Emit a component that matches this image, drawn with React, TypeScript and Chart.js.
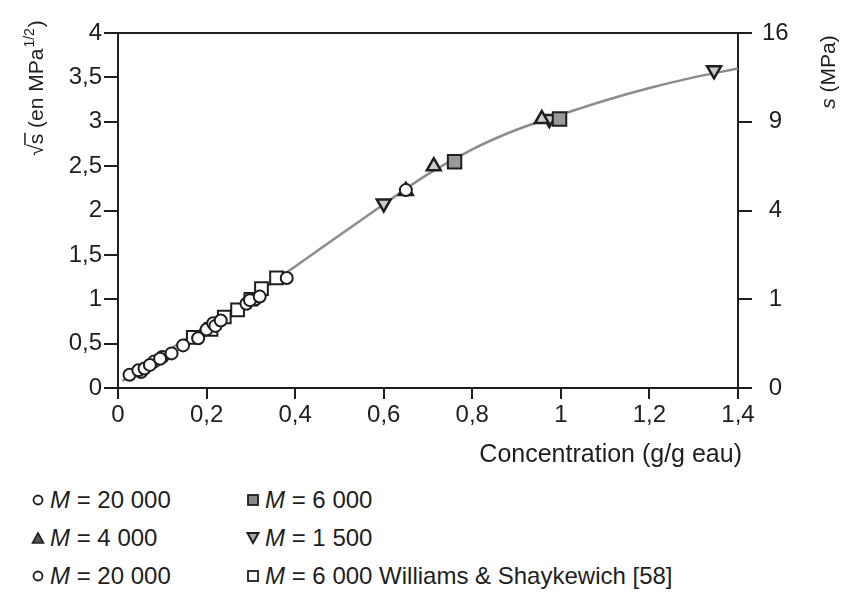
import React, { useEffect, useRef } from "react";
import { Chart, registerables } from "chart.js";

Chart.register(...registerables);

// ---- tick values & labels ----
const xTickValues = [0, 0.2, 0.4, 0.6, 0.8, 1, 1.2, 1.4];
const xTickLabels = ["0", "0,2", "0,4", "0,6", "0,8", "1", "1,2", "1,4"];
const yLeftTickValues = [0, 0.5, 1, 1.5, 2, 2.5, 3, 3.5, 4];
const yLeftTickLabels = ["0", "0,5", "1", "1,5", "2", "2,5", "3", "3,5", "4"];
const yRightTickValues = [0, 1, 2, 3, 4];
const yRightTickLabels = ["0", "1", "4", "9", "16"];

const xTitle = "Concentration (g/g eau)";

// ---- series (x = concentration g/g, y = sqrt(s)) ----
const circlesA_x = [0.026, 0.046, 0.06, 0.072, 0.095, 0.121, 0.147, 0.181, 0.22, 0.232, 0.298, 0.32, 0.381, 0.65];
const circlesA_y = [0.15, 0.2, 0.22, 0.26, 0.33, 0.39, 0.48, 0.56, 0.7, 0.76, 0.99, 1.03, 1.24, 2.23];

const graySq_x = [0.76, 0.997];
const graySq_y = [2.55, 3.03];

const tri_x = [0.65, 0.713, 0.957];
const tri_y = [2.22, 2.5, 3.03];

const invTri_x = [0.6, 0.974, 1.346];
const invTri_y = [2.08, 3.03, 3.58];

const circlesB_x = [0.052, 0.082, 0.1, 0.2, 0.215, 0.29, 0.31];
const circlesB_y = [0.18, 0.3, 0.35, 0.66, 0.73, 0.95, 1.0];

const openSq_x = [0.17, 0.21, 0.24, 0.27, 0.3, 0.324, 0.358];
const openSq_y = [0.57, 0.66, 0.8, 0.88, 1.0, 1.12, 1.24];

// fitted curve
const curve_x = [0.01, 0.1, 0.2, 0.3, 0.4, 0.5, 0.6, 0.7, 0.8, 0.9, 1.0, 1.1, 1.2, 1.3, 1.4];
const curve_y = [0.08, 0.38, 0.7, 1.02, 1.37, 1.72, 2.07, 2.41, 2.69, 2.91, 3.08, 3.24, 3.38, 3.5, 3.6];

const pts = (xs: number[], ys: number[]) => xs.map((x, i) => ({ x, y: ys[i] }));

const INK = "#1e1e1e";
const FONT = '"Liberation Sans", Arial, sans-serif';

const titlesPlugin = {
  id: "customTitles",
  afterDraw(chart: any) {
    const ctx: CanvasRenderingContext2D = chart.ctx;
    const area = chart.chartArea;
    ctx.save();
    ctx.fillStyle = INK;
    ctx.strokeStyle = INK;

    // x title
    ctx.font = `25px ${FONT}`;
    ctx.textAlign = "right";
    ctx.textBaseline = "middle";
    ctx.fillText(xTitle, area.right + 4, 455);

    // left title (rotated, reads bottom to top)
    const fs = 21;
    const normal = `${fs}px ${FONT}`;
    const small = `${Math.round(fs * 0.65)}px ${FONT}`;
    ctx.font = normal;
    const wRoot = ctx.measureText("\u221A").width;
    const wS = ctx.measureText("s").width;
    const wMid = ctx.measureText(" (en MPa").width;
    const wClose = ctx.measureText(")").width;
    ctx.font = small;
    const wSup = ctx.measureText("1/2").width;
    const total = wRoot + wS + wMid + wSup + 2 + wClose;
    ctx.translate(36, 88);
    ctx.rotate(-Math.PI / 2);
    ctx.textAlign = "left";
    ctx.textBaseline = "alphabetic";
    let x = -total / 2;
    const base = 7;
    ctx.font = normal;
    ctx.fillText("\u221A", x, base);
    x += wRoot;
    ctx.fillText("s", x, base);
    ctx.lineWidth = 1.5;
    ctx.beginPath();
    ctx.moveTo(x - 1, base - fs * 0.86);
    ctx.lineTo(x + wS + 1, base - fs * 0.86);
    ctx.stroke();
    x += wS;
    ctx.fillText(" (en MPa", x, base);
    x += wMid;
    ctx.font = small;
    ctx.fillText("1/2", x + 1, base - fs * 0.45);
    x += wSup + 2;
    ctx.font = normal;
    ctx.fillText(")", x, base);
    ctx.setTransform(1, 0, 0, 1, 0, 0);

    // right title
    ctx.translate(828, 72);
    ctx.rotate(-Math.PI / 2);
    ctx.font = `italic ${fs}px ${FONT}`;
    const wI = ctx.measureText("s").width;
    ctx.font = normal;
    const wR = ctx.measureText(" (MPa)").width;
    let rx = -(wI + wR) / 2;
    ctx.font = `italic ${fs}px ${FONT}`;
    ctx.fillText("s", rx, base);
    rx += wI;
    ctx.font = normal;
    ctx.fillText(" (MPa)", rx, base);
    ctx.restore();
  },
};

const markerBase = { borderColor: INK, showLine: false };

export default function App() {
  const ref = useRef<HTMLCanvasElement>(null);

  useEffect(() => {
    const tickFont = { family: FONT, size: 24 };
    const chart = new Chart(ref.current as HTMLCanvasElement, {
      type: "scatter",
      data: {
        datasets: [
          { ...markerBase, label: "M = 20 000", data: pts(circlesA_x, circlesA_y), pointStyle: "circle", pointRadius: 6, backgroundColor: "#fff", borderWidth: 2 },
          { ...markerBase, label: "M = 6 000", data: pts(graySq_x, graySq_y), pointStyle: "rect", pointRadius: 9.5, backgroundColor: "#999", borderWidth: 2 },
          { ...markerBase, label: "M = 4 000", data: pts(tri_x, tri_y), pointStyle: "triangle", pointRadius: 8, backgroundColor: "#ccc", borderWidth: 2.5 },
          { ...markerBase, label: "M = 1 500", data: pts(invTri_x, invTri_y), pointStyle: "triangle", rotation: 180, pointRadius: 8, backgroundColor: "#ccc", borderWidth: 2.5 },
          { ...markerBase, label: "M = 20 000 (b)", data: pts(circlesB_x, circlesB_y), pointStyle: "circle", pointRadius: 6, backgroundColor: "#fff", borderWidth: 2 },
          { ...markerBase, label: "M = 6 000 Williams & Shaykewich [58]", data: pts(openSq_x, openSq_y), pointStyle: "rect", pointRadius: 9, backgroundColor: "#fff", borderWidth: 2 },
          {
            label: "fit",
            data: pts(curve_x, curve_y),
            showLine: true,
            borderColor: "#8c8c8c",
            borderWidth: 2.5,
            pointRadius: 0,
            cubicInterpolationMode: "monotone",
            fill: false,
          } as any,
        ],
      },
      options: {
        animation: false,
        responsive: false,
        maintainAspectRatio: false,
        layout: { padding: { top: 33, left: 0, right: 0, bottom: 0 } },
        plugins: { legend: { display: false }, tooltip: { enabled: false } },
        scales: {
          x: {
            type: "linear",
            position: "bottom",
            min: 0,
            max: 1.4,
            afterBuildTicks: (s: any) => {
              s.ticks = xTickValues.map((v) => ({ value: v }));
            },
            afterFit: (s: any) => {
              s.height = 82;
            },
            ticks: {
              callback: (_v: any, i: number) => xTickLabels[i],
              font: tickFont,
              color: INK,
              padding: 2,
              maxRotation: 0,
              autoSkip: false,
            },
            grid: { drawOnChartArea: false, drawTicks: true, tickLength: 11, color: INK, lineWidth: 2 },
            border: { display: true, color: INK, width: 2 },
          },
          x2: {
            type: "linear",
            position: "top",
            min: 0,
            max: 1.4,
            afterFit: (s: any) => {
              s.height = 0;
            },
            ticks: { display: false },
            grid: { display: false, drawTicks: false },
            border: { display: true, color: INK, width: 2 },
          },
          y: {
            type: "linear",
            position: "left",
            min: 0,
            max: 4,
            afterBuildTicks: (s: any) => {
              s.ticks = yLeftTickValues.map((v) => ({ value: v }));
            },
            afterFit: (s: any) => {
              s.width = 118;
            },
            ticks: {
              callback: (_v: any, i: number) => yLeftTickLabels[i],
              font: tickFont,
              color: INK,
              padding: 2,
            },
            grid: { drawOnChartArea: false, drawTicks: true, tickLength: 14, color: INK, lineWidth: 2 },
            border: { display: true, color: INK, width: 2 },
          },
          y2: {
            type: "linear",
            position: "right",
            min: 0,
            max: 4,
            afterBuildTicks: (s: any) => {
              s.ticks = yRightTickValues.map((v) => ({ value: v }));
            },
            afterFit: (s: any) => {
              s.width = 128;
            },
            ticks: {
              callback: (_v: any, i: number) => yRightTickLabels[i],
              font: tickFont,
              color: INK,
              padding: 10,
              crossAlign: "center",
            },
            grid: { drawOnChartArea: false, drawTicks: true, tickLength: 14, color: INK, lineWidth: 2 },
            border: { display: true, color: INK, width: 2 },
          },
        },
      },
      plugins: [titlesPlugin],
    } as any);
    return () => chart.destroy();
  }, []);

  const legendText = { fontFamily: FONT, fontSize: 24, color: INK, whiteSpace: "nowrap" as const, lineHeight: "26px" };
  const M = <i>M</i>;

  const marker = (kind: string) => {
    switch (kind) {
      case "circle":
        return (
          <svg width="14" height="14"><circle cx="7" cy="7" r="4.5" fill="#fff" stroke={INK} strokeWidth="1.8" /></svg>
        );
      case "graySq":
        return (
          <svg width="14" height="14"><rect x="2" y="2" width="10" height="10" fill="#888" stroke={INK} strokeWidth="1.8" /></svg>
        );
      case "tri":
        return (
          <svg width="14" height="14"><polygon points="7,2 12.5,12 1.5,12" fill="#555" stroke={INK} strokeWidth="1.6" /></svg>
        );
      case "invTri":
        return (
          <svg width="14" height="14"><polygon points="1.5,2 12.5,2 7,12" fill="#aaa" stroke={INK} strokeWidth="2" /></svg>
        );
      default:
        return (
          <svg width="14" height="14"><rect x="2" y="2" width="10" height="10" fill="#fff" stroke={INK} strokeWidth="1.8" /></svg>
        );
    }
  };

  const item = (left: number, top: number, kind: string, rest: string) => (
    <div style={{ position: "absolute", left, top, display: "flex", alignItems: "center", gap: 5, ...legendText }}>
      {marker(kind)}
      <span>
        {M} = {rest}
      </span>
    </div>
  );

  return (
    <div style={{ position: "absolute", left: 0, top: 0, width: 866, height: 594, background: "#fff" }}>
      <canvas ref={ref} width={866} height={470} style={{ position: "absolute", left: 0, top: 0, width: 866, height: 470 }} />
      {item(31, 487, "circle", "20 000")}
      {item(246, 487, "graySq", "6 000")}
      {item(31, 525, "tri", "4 000")}
      {item(246, 525, "invTri", "1 500")}
      {item(31, 563, "circle", "20 000")}
      {item(246, 563, "openSq", "6 000 Williams & Shaykewich [58]")}
    </div>
  );
}
